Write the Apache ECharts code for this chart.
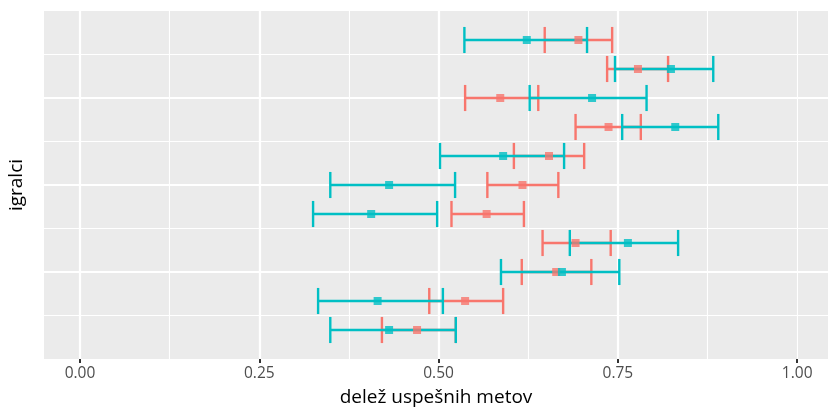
<!DOCTYPE html>
<html>
<head>
<meta charset="utf-8">
<script src="https://cdn.jsdelivr.net/npm/echarts@6/dist/echarts.min.js"></script>
<style>
  html, body { margin: 0; padding: 0; background: #fff; }
  #chart { width: 828px; height: 410px; }
</style>
</head>
<body>
<div id="chart"></div>
<script>
// one row per player, top to bottom (y position on the continuous axis)
var rows = [11, 10, 9, 8, 7, 6, 5, 4, 3, 2, 1];

// salmon group: mean and interval
var salmonMean = [0.695, 0.778, 0.586, 0.737, 0.654, 0.617, 0.567, 0.691, 0.664, 0.537, 0.470];
var salmonLow  = [0.648, 0.735, 0.537, 0.691, 0.605, 0.568, 0.518, 0.645, 0.616, 0.487, 0.421];
var salmonHigh = [0.742, 0.820, 0.639, 0.782, 0.703, 0.667, 0.619, 0.740, 0.713, 0.590, 0.524];

// teal group: mean and interval
var tealMean = [0.623, 0.824, 0.714, 0.830, 0.590, 0.431, 0.406, 0.764, 0.672, 0.415, 0.431];
var tealLow  = [0.536, 0.746, 0.627, 0.756, 0.502, 0.349, 0.325, 0.683, 0.587, 0.332, 0.349];
var tealHigh = [0.707, 0.883, 0.790, 0.890, 0.675, 0.523, 0.498, 0.834, 0.752, 0.506, 0.524];

var xTickValues = [0, 0.25, 0.5, 0.75, 1];
var xTicks = ['0.00', '0.25', '0.50', '0.75', '1.00'];

var SALMON = '#F8766D';
var TEAL = '#00BFC4';
var FONT = 'Open Sans';

function barData(lo, hi) {
    return rows.map(function (y, i) { return [lo[i], hi[i], y]; });
}
function pointData(mean) {
    return rows.map(function (y, i) { return [mean[i], y]; });
}

function errorBar(color) {
    return function (params, api) {
        var y = api.value(2);
        var a = api.coord([api.value(0), y]);
        var b = api.coord([api.value(1), y]);
        var h = api.size([0, 0.45])[1];
        var st = { stroke: color, lineWidth: 2.4 };
        return {
            type: 'group',
            children: [
                { type: 'line', shape: { x1: a[0], y1: a[1], x2: b[0], y2: b[1] }, style: st },
                { type: 'line', shape: { x1: a[0], y1: a[1] - h, x2: a[0], y2: a[1] + h }, style: st },
                { type: 'line', shape: { x1: b[0], y1: b[1] - h, x2: b[0], y2: b[1] + h }, style: st }
            ]
        };
    };
}

var chart = echarts.init(document.getElementById('chart'), null, { renderer: 'canvas' });

var option = {
    animation: false,
    backgroundColor: '#ffffff',
    grid: [
        // full panel (gray background, horizontal grid lines)
        { left: 44, right: 0, top: 11, bottom: 51, show: true, backgroundColor: '#EBEBEB', borderWidth: 0, outerBoundsMode: 'none' },
        // data area, starting at x = 0
        { left: 80, right: 0, top: 11, bottom: 51, outerBoundsMode: 'none' }
    ],
    xAxis: [
        {
            gridIndex: 0, type: 'value', min: 0, max: 1, position: 'bottom',
            axisLine: { show: false }, axisTick: { show: false }, axisLabel: { show: false },
            splitLine: { show: false },
            name: 'delež uspešnih metov', nameLocation: 'middle', nameGap: 29,
            nameTextStyle: { fontFamily: FONT, fontSize: 19, color: '#000' }
        },
        {
            gridIndex: 1, type: 'value', min: 0, max: 1.043, interval: 0.125, position: 'bottom',
            axisLine: { show: false }, axisTick: { show: false }, axisLabel: { show: false },
            splitLine: { show: true, showMaxLine: false, lineStyle: { color: '#ffffff', width: 1.1 } }
        },
        {
            gridIndex: 1, type: 'value', min: 0, max: 1.043, position: 'bottom',
            axisLine: { show: false },
            axisTick: { show: true, customValues: xTickValues, length: 4, lineStyle: { color: '#333333', width: 2 } },
            axisLabel: {
                show: true, customValues: xTickValues, margin: 7, fontFamily: FONT, fontSize: 15.5, color: '#4D4D4D',
                formatter: function (v) { return xTicks[xTickValues.indexOf(v)]; }
            },
            splitLine: { show: true, showMaxLine: false, lineStyle: { color: '#ffffff', width: 2.2 } }
        }
    ],
    yAxis: [
        {
            gridIndex: 0, type: 'value', min: 0, max: 12, interval: 1.5,
            axisLine: { show: false }, axisTick: { show: false }, axisLabel: { show: false },
            splitLine: { show: true, showMinLine: false, showMaxLine: false, lineStyle: { color: '#ffffff', width: 1.1 } },
            name: 'igralci', nameLocation: 'middle', nameRotate: 90, nameGap: 18,
            nameTextStyle: { fontFamily: FONT, fontSize: 19, color: '#000' }
        },
        {
            gridIndex: 0, type: 'value', min: 0, max: 12, interval: 3,
            axisLine: { show: false }, axisTick: { show: false }, axisLabel: { show: false },
            splitLine: { show: true, showMinLine: false, showMaxLine: false, lineStyle: { color: '#ffffff', width: 2.2 } }
        },
        {
            gridIndex: 1, type: 'value', min: 0, max: 12, show: false
        }
    ],
    series: [
        {
            type: 'custom', xAxisIndex: 2, yAxisIndex: 2, z: 3,
            renderItem: errorBar(SALMON), data: barData(salmonLow, salmonHigh)
        },
        {
            type: 'custom', xAxisIndex: 2, yAxisIndex: 2, z: 3,
            renderItem: errorBar(TEAL), data: barData(tealLow, tealHigh)
        },
        {
            type: 'scatter', xAxisIndex: 2, yAxisIndex: 2, z: 4,
            symbol: 'rect', symbolSize: 8, itemStyle: { color: SALMON },
            data: pointData(salmonMean)
        },
        {
            type: 'scatter', xAxisIndex: 2, yAxisIndex: 2, z: 4,
            symbol: 'rect', symbolSize: 8, itemStyle: { color: TEAL },
            data: pointData(tealMean)
        }
    ]
};

chart.setOption(option);
</script>
</body>
</html>
